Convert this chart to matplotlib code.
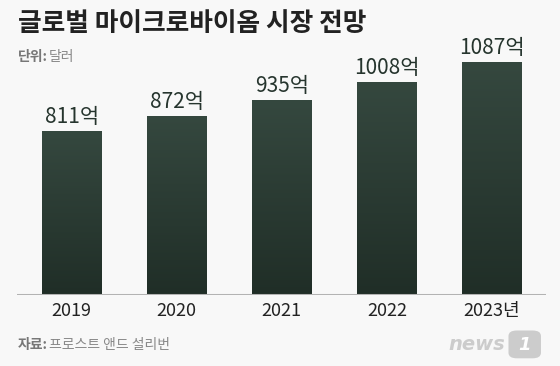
import matplotlib.pyplot as plt
import numpy as np
from matplotlib.colors import LinearSegmentedColormap
from matplotlib.patches import FancyBboxPatch

plt.rcParams['font.family'] = ['Noto Sans CJK KR', 'DejaVu Sans']

years = ['2019', '2020', '2021', '2022', '2023년']
values = [811, 872, 935, 1008, 1087]
labels = ['811억', '872억', '935억', '1008억', '1087억']

bg = '#f8f8f8'
fig = plt.figure(figsize=(5.6, 3.66), dpi=100, facecolor=bg)
ax = fig.add_axes([0.0298, 0.194, 0.945, 0.669], facecolor=bg)

x = np.arange(len(values))
bars = ax.bar(x, values, width=0.571, bottom=0, color='#2b3c34', zorder=2)

# vertical gradient inside each bar
cmap = LinearSegmentedColormap.from_list('g', ['#202e27', '#35483f'])
grad = np.linspace(0, 1, 256).reshape(-1, 1)
for b in bars:
    im = ax.imshow(grad, cmap=cmap, aspect='auto', origin='lower',
                   extent=[b.get_x(), b.get_x() + b.get_width(), 155, b.get_height()],
                   zorder=3)
    im.set_clip_path(b)

for xi, v, lab in zip(x, values, labels):
    ax.text(xi, v + 12, lab, ha='center', va='bottom', fontsize=15,
            color='#26352e')

ax.set_xlim(-0.524, 4.514)
ax.set_ylim(155, 1135)
ax.axhline(155, color='#b3b3b3', lw=2.2, zorder=4)
for s in ax.spines.values():
    s.set_visible(False)
ax.set_yticks([])
ax.set_xticks(x)
ax.set_xticklabels(years, fontsize=13, color='#222222')
ax.tick_params(axis='x', length=0, pad=5)

fig.text(0.032, 0.935, '글로벌 마이크로바이옴 시장 전망', fontsize=18.5, fontweight='bold',
         color='#222222', va='center', ha='left')
fig.text(0.032, 0.845, '단위:', fontsize=10, fontweight='bold', color='#777777',
         va='center', ha='left')
fig.text(0.087, 0.845, '달러', fontsize=10, color='#888888', va='center', ha='left')
fig.text(0.032, 0.058, '자료:', fontsize=10, fontweight='bold', color='#777777',
         va='center', ha='left')
fig.text(0.087, 0.058, '프로스트 앤드 설리번', fontsize=10, color='#888888',
         va='center', ha='left')

# news1 logo
fig.text(0.902, 0.058, 'news', fontsize=14, fontweight='bold', style='italic',
         color='#cccccc', va='center', ha='right', family='DejaVu Sans')
box = FancyBboxPatch((0.912, 0.025), 0.05, 0.068, boxstyle='round,pad=0.004,rounding_size=0.015',
                     transform=fig.transFigure, facecolor='#cccccc', edgecolor='none')
fig.patches.append(box)
fig.text(0.937, 0.058, '1', fontsize=13, fontweight='bold', style='italic',
         color='white', va='center', ha='center', family='DejaVu Sans')

fig.savefig('out.png', dpi=100, facecolor=bg)
